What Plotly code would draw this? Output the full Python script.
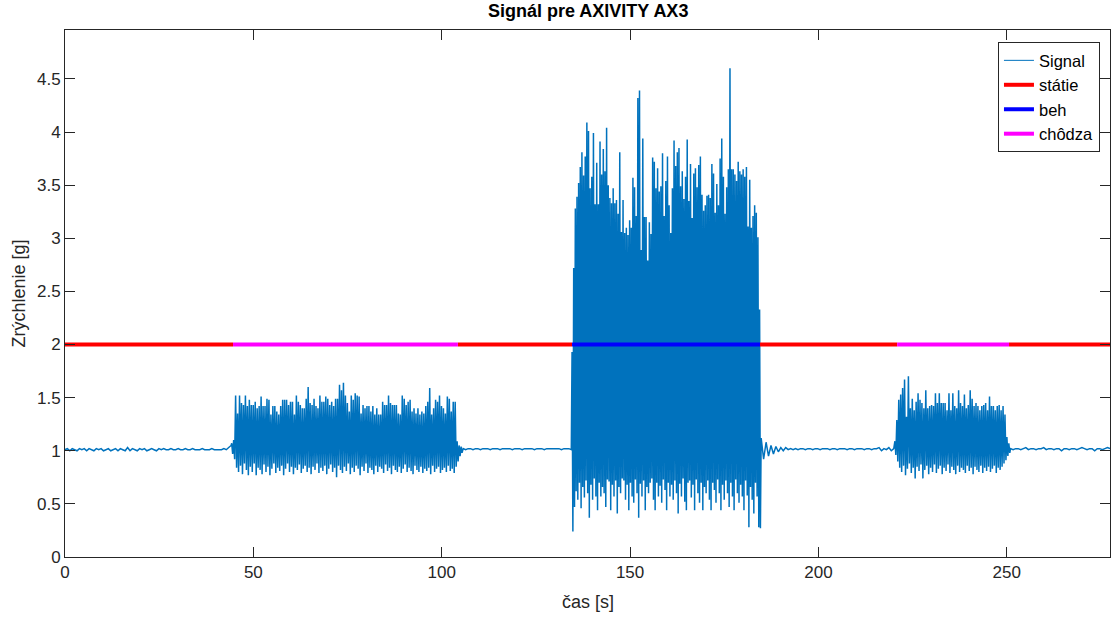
import numpy as np
import plotly.graph_objects as go

# ---------------- data ----------------
# quiet segments (time span, values)
quiet1_span = (0.0, 44.1)
quiet1 = [1.01, 1.02, 1.00, 1.02, 1.01, 1.00, 1.02, 1.01, 1.02, 1.00,
          1.02, 1.01, 1.00, 1.02, 1.01, 1.02, 1.00, 1.01, 1.02, 1.00,
          1.01, 1.02, 1.00, 1.02, 1.01, 1.00, 1.03, 1.00, 1.02, 1.01,
          1.00, 1.02, 1.01, 1.02, 1.00, 1.01, 1.02, 1.01, 1.00, 1.02,
          1.01, 1.02, 1.01, 1.01, 1.02, 1.01, 1.01, 1.02, 1.01, 1.01,
          1.02, 1.01, 1.01, 1.02, 1.01, 1.01, 1.01, 1.02, 1.01, 1.01,
          1.01, 1.02, 1.01, 1.01, 1.01, 1.01, 1.02, 1.01, 1.03, 1.05]

walk1_span = (44.25, 105.4)
walk1_peaks = [1.07, 1.10, 1.52, 1.35, 1.52, 1.45, 1.43, 1.52, 1.42, 1.48,
               1.43, 1.43, 1.46, 1.40, 1.42, 1.51, 1.42, 1.42, 1.49, 1.48,
               1.34, 1.42, 1.42, 1.37, 1.34, 1.42, 1.48, 1.48, 1.48, 1.43,
               1.46, 1.46, 1.34, 1.52, 1.46, 1.43, 1.40, 1.40, 1.49, 1.60,
               1.45, 1.43, 1.49, 1.42, 1.40, 1.52, 1.46, 1.46, 1.51, 1.49,
               1.43, 1.46, 1.42, 1.49, 1.49, 1.62, 1.57, 1.64, 1.52,
               1.45, 1.37, 1.52, 1.48, 1.54, 1.52, 1.51, 1.35, 1.43, 1.40,
               1.42, 1.42, 1.37, 1.42, 1.34, 1.40, 1.34, 1.34, 1.46, 1.43,
               1.43, 1.52, 1.45, 1.43, 1.43, 1.43, 1.35, 1.34, 1.52, 1.49,
               1.43, 1.46, 1.48, 1.37, 1.40, 1.35, 1.40, 1.34, 1.37, 1.35,
               1.42, 1.46, 1.59, 1.34, 1.40, 1.48, 1.46, 1.52, 1.42, 1.40,
               1.35, 1.51, 1.49, 1.37, 1.46, 1.46, 1.09, 1.05, 1.04]
walk1_troughs = [0.97, 0.92, 0.84, 0.80, 0.86, 0.78, 0.88, 0.82, 0.77, 0.85,
                 0.80, 0.88, 0.77, 0.84, 0.82, 0.78, 0.87, 0.80, 0.85, 0.77,
                 0.83, 0.88, 0.79, 0.84, 0.81, 0.86, 0.77, 0.83, 0.88, 0.80,
                 0.85, 0.78, 0.84, 0.82, 0.87, 0.79, 0.83, 0.86, 0.80, 0.84,
                 0.78, 0.85, 0.82, 0.88, 0.79, 0.84, 0.81, 0.86, 0.78, 0.83,
                 0.87, 0.80, 0.84, 0.75, 0.86, 0.82, 0.79, 0.85, 0.81, 0.88,
                 0.78, 0.84, 0.80, 0.86, 0.83, 0.77, 0.85, 0.81, 0.88, 0.79,
                 0.84, 0.82, 0.78, 0.86, 0.80, 0.85, 0.83, 0.79, 0.87, 0.81,
                 0.84, 0.78, 0.86, 0.82, 0.80, 0.85, 0.79, 0.83, 0.87, 0.80,
                 0.84, 0.81, 0.78, 0.86, 0.82, 0.80, 0.85, 0.79, 0.83, 0.81,
                 0.84, 0.78, 0.86, 0.80, 0.83, 0.85, 0.79, 0.82, 0.84, 0.80,
                 0.86, 0.81, 0.83, 0.79, 0.85, 0.90, 0.95, 0.98]

quiet2_span = (105.7, 134.4)
quiet2 = [1.02, 1.01, 1.02, 1.02, 1.01, 1.02, 1.02, 1.01, 1.02, 1.02,
          1.02, 1.01, 1.02, 1.02, 1.02, 1.01, 1.02, 1.02, 1.02, 1.02,
          1.01, 1.02, 1.02, 1.02, 1.01, 1.02, 1.02, 1.02, 1.02, 1.01,
          1.02, 1.02, 1.02, 1.01, 1.02, 1.02, 1.02, 1.02, 1.02, 1.02,
          1.01, 1.02, 1.02, 1.02, 1.01]

run_span = (134.6, 184.6)
run_peaks = [1.93, 2.72, 3.28, 3.39, 3.52, 3.67, 3.81, 3.59, 3.77, 4.09,
             4.01, 3.47, 3.58, 3.99, 3.32, 3.71, 3.32, 3.91, 3.60, 3.84,
             3.63, 4.04, 3.50, 3.38, 3.33, 3.47, 3.33, 3.36, 3.23, 3.81,
             3.06, 3.36, 3.05, 3.10, 3.03, 3.17, 3.10, 3.57, 3.48, 3.21,
             4.32, 4.39, 2.89, 3.94, 3.20, 3.20, 2.79, 3.15, 3.04, 3.76,
             3.72, 3.47, 3.66, 3.44, 3.49, 3.80, 3.21, 3.54, 3.77, 3.31,
             3.05, 3.47, 3.92, 3.68, 3.81, 3.85, 3.49, 3.63, 3.37, 3.58,
             3.93, 3.35, 3.70, 3.19, 3.61, 3.66, 3.48, 3.69, 3.77, 3.41,
             3.26, 3.31, 3.40, 3.41, 3.38, 3.70, 3.61, 3.24, 3.51, 3.31,
             3.75, 3.94, 3.58, 3.23, 3.48, 3.65, 4.60, 3.65, 3.65, 3.60,
             3.54, 3.72, 3.63, 3.60, 3.65, 3.58, 3.67, 3.11, 3.55, 3.10,
             3.21, 3.31, 3.24, 3.01, 2.33]
run_troughs = [0.24, 0.47, 0.62, 0.54, 0.70, 0.46, 0.66, 0.56, 0.72, 0.60,
               0.37, 0.68, 0.54, 0.74, 0.57, 0.44, 0.70, 0.57, 0.66, 0.60,
               0.47, 0.73, 0.71, 0.44, 0.68, 0.57, 0.72, 0.41, 0.66, 0.60,
               0.74, 0.72, 0.54, 0.68, 0.44, 0.70, 0.57, 0.51, 0.73, 0.60,
               0.37, 0.69, 0.57, 0.72, 0.44, 0.66, 0.60, 0.70, 0.74, 0.54,
               0.44, 0.70, 0.57, 0.67, 0.51, 0.73, 0.63, 0.44, 0.70, 0.57,
               0.68, 0.54, 0.72, 0.60, 0.41, 0.69, 0.57, 0.74, 0.52, 0.44,
               0.70, 0.72, 0.56, 0.68, 0.44, 0.73, 0.60, 0.51, 0.70, 0.44,
               0.66, 0.60, 0.72, 0.54, 0.44, 0.70, 0.63, 0.51, 0.73, 0.60,
               0.44, 0.68, 0.54, 0.72, 0.60, 0.47, 0.70, 0.57, 0.44, 0.73,
               0.60, 0.51, 0.68, 0.57, 0.44, 0.72, 0.58, 0.28, 0.66, 0.54,
               0.41, 0.70, 0.57, 0.28, 0.27]

quiet3_span = (184.8, 220.0)
quiet3 = [1.12, 0.92, 1.08, 0.95, 1.05, 0.97, 1.04, 0.99, 1.03, 1.00,
          1.03, 1.01, 1.02, 1.01, 1.02, 1.01, 1.02, 1.02, 1.01, 1.02,
          1.02, 1.01, 1.02, 1.02, 1.01, 1.02, 1.02, 1.02, 1.01, 1.02,
          1.02, 1.01, 1.02, 1.02, 1.02, 1.01, 1.02, 1.02, 1.01, 1.02,
          1.02, 1.02, 1.01, 1.02, 1.02, 1.01, 1.02, 1.02, 1.03, 1.00,
          1.02, 1.01, 1.03, 1.00, 1.02]

walk2_span = (220.3, 250.8)
walk2_peaks = [1.09, 1.29, 1.48, 1.53, 1.59, 1.67, 1.32, 1.70, 1.40, 1.49,
               1.38, 1.46, 1.54, 1.48, 1.45, 1.40, 1.57, 1.40, 1.42, 1.43,
               1.42, 1.54, 1.45, 1.54, 1.45, 1.45, 1.45, 1.38, 1.54, 1.38,
               1.54, 1.42, 1.40, 1.57, 1.45, 1.42, 1.53, 1.40, 1.43, 1.57,
               1.49, 1.42, 1.45, 1.42, 1.38, 1.42, 1.43, 1.45, 1.38, 1.51,
               1.42, 1.42, 1.38, 1.42, 1.43, 1.38, 1.42, 1.34, 1.13, 1.07]
walk2_troughs = [0.96, 0.90, 0.84, 0.80, 0.86, 0.77, 0.83, 0.88, 0.79, 0.84,
                 0.74, 0.85, 0.81, 0.87, 0.74, 0.82, 0.86, 0.78, 0.84, 0.80,
                 0.87, 0.79, 0.83, 0.86, 0.78, 0.84, 0.81, 0.87, 0.79, 0.85,
                 0.82, 0.78, 0.86, 0.80, 0.84, 0.82, 0.79, 0.86, 0.81, 0.84,
                 0.78, 0.85, 0.82, 0.80, 0.86, 0.79, 0.84, 0.81, 0.85, 0.80,
                 0.83, 0.86, 0.79, 0.84, 0.82, 0.85, 0.88, 0.91, 0.95, 0.98]

quiet4_span = (251.0, 277.4)
quiet4 = [1.02, 1.01, 1.02, 1.02, 1.01, 1.02, 1.03, 1.01, 1.02, 1.02,
          1.01, 1.02, 1.02, 1.03, 1.01, 1.02, 1.02, 1.01, 1.02, 1.02,
          1.00, 1.02, 1.02, 1.01, 1.02, 1.02, 1.01, 1.02, 1.03, 1.02,
          1.01, 1.02, 1.02, 1.00, 1.02, 1.02, 1.01, 1.02, 1.03, 1.02]

# activity labels at level 2 g: (start, end) per class
level = 2.0
statie_segments = [(0.0, 44.6), (104.3, 134.6), (184.5, 220.9), (250.6, 277.4)]
beh_segments = [(134.6, 184.5)]
chodza_segments = [(44.6, 104.3), (220.9, 250.6)]

x_range = [0, 277.4]
y_range = [0, 4.96]
x_ticks = [0, 50, 100, 150, 200, 250]
y_ticks = [0, 0.5, 1, 1.5, 2, 2.5, 3, 3.5, 4, 4.5]
y_tick_text = ["0", "0.5", "1", "1.5", "2", "2.5", "3", "3.5", "4", "4.5"]

# ---------------- build the signal ----------------
def quiet(span, vals):
    return list(np.linspace(span[0], span[1], len(vals))), list(vals)

def active(span, peaks, troughs):
    vals = []
    for p, t in zip(peaks, troughs):
        vals += [p, t]
    return list(np.linspace(span[0], span[1], len(vals))), vals

sig_t, sig_v = [], []
for tt, vv in [quiet(quiet1_span, quiet1),
               active(walk1_span, walk1_peaks, walk1_troughs),
               quiet(quiet2_span, quiet2),
               active(run_span, run_peaks, run_troughs),
               quiet(quiet3_span, quiet3),
               active(walk2_span, walk2_peaks, walk2_troughs),
               quiet(quiet4_span, quiet4)]:
    sig_t += tt
    sig_v += vv

def seg_xy(segs):
    xs, ys = [], []
    for a, b in segs:
        xs += [a, b, None]
        ys += [level, level, None]
    return xs, ys

FONT = "Arial, 'Liberation Sans', Helvetica, sans-serif"
AX = "#262626"
SIG = "#0072BD"

fig = go.Figure()
fig.add_trace(go.Scatter(x=sig_t, y=sig_v, mode="lines", name="Signal",
                         showlegend=False,
                         line=dict(color=SIG, width=1.5)))
# legend entry for the signal with MATLAB's thin line sample
fig.add_trace(go.Scatter(x=[None], y=[None], mode="lines", name="Signal",
                         line=dict(color=SIG, width=1)))
for name, segs, col in [("státie", statie_segments, "#FF0000"),
                        ("beh", beh_segments, "#0000FF"),
                        ("chôdza", chodza_segments, "#FF00FF")]:
    xs, ys = seg_xy(segs)
    fig.add_trace(go.Scatter(x=xs, y=ys, mode="lines", name=name,
                             line=dict(color=col, width=4)))

axis_common = dict(showline=True, linecolor=AX, linewidth=1, mirror="ticks",
                   ticks="inside", ticklen=10, tickcolor=AX, tickwidth=1,
                   showgrid=False, zeroline=False,
                   tickfont=dict(family=FONT, size=17, color=AX))
fig.update_xaxes(range=x_range, tickvals=x_ticks, **axis_common)
fig.update_yaxes(range=y_range, tickvals=y_ticks, ticktext=y_tick_text, **axis_common)

fig.update_layout(
    width=1113, height=617,
    margin=dict(l=65, r=3, t=30, b=60),
    paper_bgcolor="white", plot_bgcolor="white",
    showlegend=True,
    legend=dict(x=0.9904, xanchor="right", y=0.977, yanchor="top",
                bgcolor="white", bordercolor=AX, borderwidth=1,
                font=dict(family=FONT, size=16.5, color="black"),
                tracegroupgap=0, itemwidth=30),
    annotations=[
        dict(text="<b>Signál pre AXIVITY AX3</b>", xref="paper", yref="paper",
             x=0.5, y=(557 - 11) / 527, xanchor="center", yanchor="middle",
             showarrow=False, font=dict(family=FONT, size=18, color="black")),
        dict(text="čas [s]", xref="paper", yref="paper",
             x=0.5, y=(557 - 602) / 527, xanchor="center", yanchor="middle",
             showarrow=False, font=dict(family=FONT, size=18, color=AX)),
        dict(text="Zrýchlenie [g]", xref="paper", yref="paper",
             x=(18 - 65) / 1045, y=0.5, xanchor="center", yanchor="middle",
             textangle=-90, showarrow=False,
             font=dict(family=FONT, size=18, color=AX)),
    ],
)

fig.write_html("out.html")
